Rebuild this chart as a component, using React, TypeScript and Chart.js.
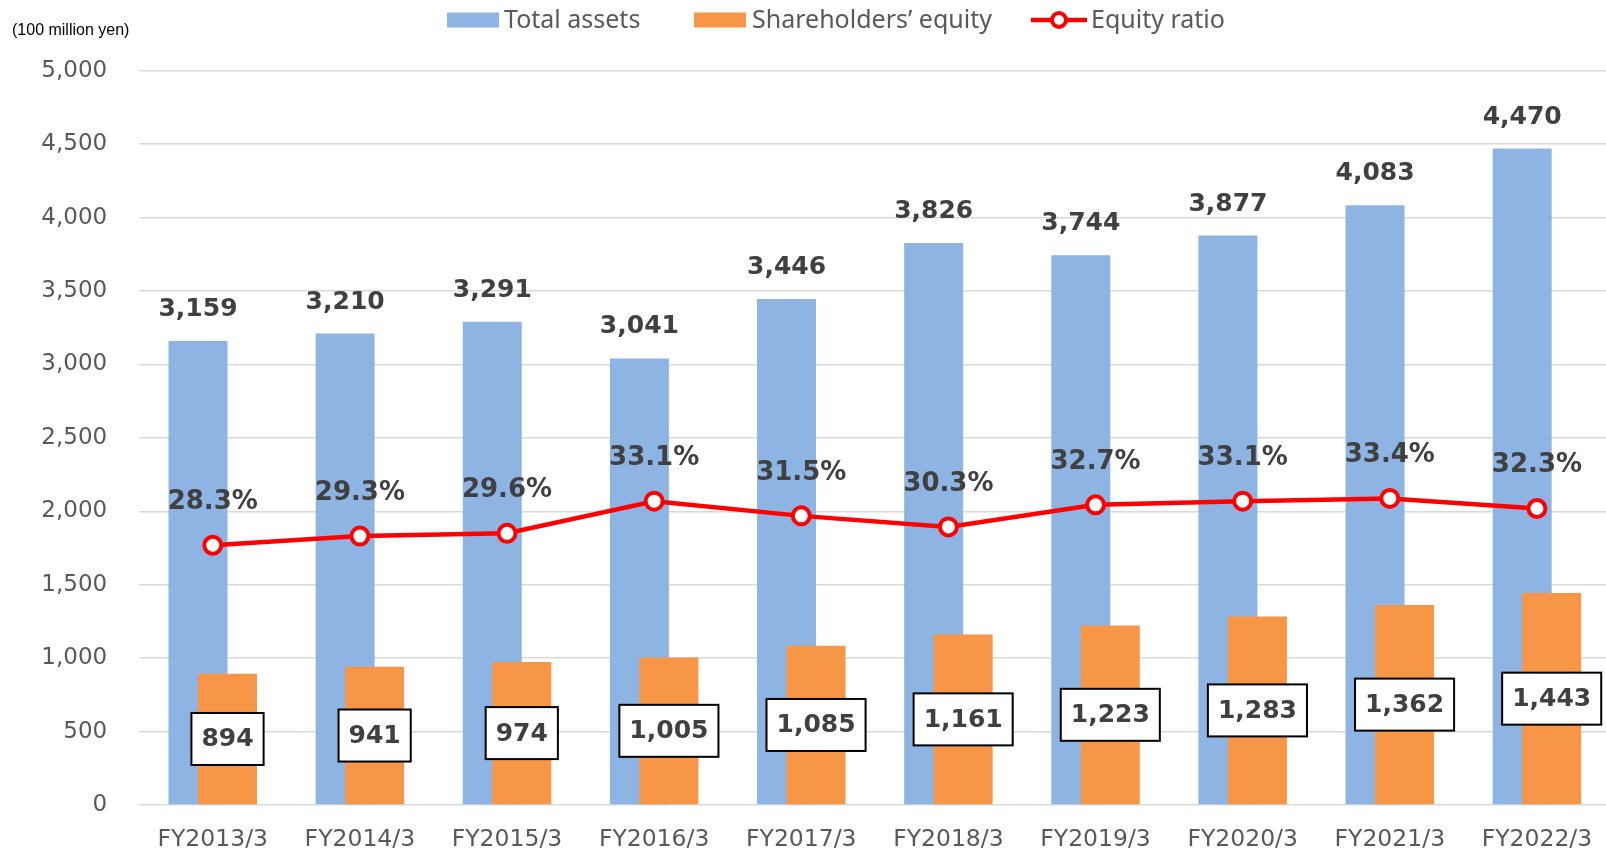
import { useEffect, useRef } from 'react';
import { Chart, registerables } from 'chart.js';

Chart.register(...registerables);

// ---- data ----
const categories = [
  'FY2013/3', 'FY2014/3', 'FY2015/3', 'FY2016/3', 'FY2017/3',
  'FY2018/3', 'FY2019/3', 'FY2020/3', 'FY2021/3', 'FY2022/3',
];
const totalAssets = [3159, 3210, 3291, 3041, 3446, 3826, 3744, 3877, 4083, 4470];
const shareholdersEquity = [894, 941, 974, 1005, 1085, 1161, 1223, 1283, 1362, 1443];
const equityRatio = [28.3, 29.3, 29.6, 33.1, 31.5, 30.3, 32.7, 33.1, 33.4, 32.3];
const seriesNames = ['Total assets', 'Shareholders\u2019 equity', 'Equity ratio'];
const unitLabel = '(100 million yen)';
const yMin = 0;
const yMax = 5000;
const yStep = 500;
const ratioMin = 0;
const ratioMax = 80;

// ---- styles ----
const BLUE = '#8EB4E3';
const ORANGE = '#F79646';
const RED = '#FF0000';
const TICK_COLOR = '#595959';
const LABEL_COLOR = '#404040';
const GRID_COLOR = '#D9D9D9';
const CANVAS_W = 1623;
const CANVAS_H = 853;

const fmt = (v: number) => v.toLocaleString('en-US');

// draw orange bars right after the blue ones so they sit on top of them
const barLayering = {
  id: 'barLayering',
  beforeDatasetDraw(chart: any, args: any) {
    if (args.index === 1) return false;
    return true;
  },
  afterDatasetDraw(chart: any, args: any) {
    if (args.index === 0) {
      chart.getDatasetMeta(1).controller.draw();
    }
  },
};

const dataLabels = {
  id: 'dataLabels',
  afterDatasetsDraw(chart: any) {
    const ctx = chart.ctx as CanvasRenderingContext2D;
    ctx.save();
    ctx.textAlign = 'center';
    ctx.textBaseline = 'middle';

    // total assets above bars
    ctx.font = 'bold 25px "DejaVu Sans"';
    ctx.fillStyle = LABEL_COLOR;
    chart.getDatasetMeta(0).data.forEach((bar: any, i: number) => {
      ctx.fillText(fmt(totalAssets[i]), bar.x, bar.y - 31.5);
    });

    // equity boxed labels in middle of bars
    chart.getDatasetMeta(1).data.forEach((bar: any, i: number) => {
      const t = fmt(shareholdersEquity[i]);
      ctx.font = 'bold 25px "DejaVu Sans"';
      const w = ctx.measureText(t).width + 20;
      const h = 52;
      const cy = (bar.y + bar.base) / 2;
      ctx.fillStyle = '#FFFFFF';
      ctx.fillRect(bar.x - w / 2, cy - h / 2, w, h);
      ctx.lineWidth = 2;
      ctx.strokeStyle = '#000000';
      ctx.strokeRect(bar.x - w / 2, cy - h / 2, w, h);
      ctx.fillStyle = LABEL_COLOR;
      ctx.fillText(t, bar.x, cy + 1);
    });

    // ratio labels above points
    ctx.font = 'bold 26px "DejaVu Sans"';
    ctx.fillStyle = LABEL_COLOR;
    chart.getDatasetMeta(2).data.forEach((pt: any, i: number) => {
      ctx.fillText(equityRatio[i].toFixed(1) + '%', pt.x, pt.y - 43);
    });
    ctx.restore();
  },
};

const legendAndUnit = {
  id: 'legendAndUnit',
  afterDraw(chart: any) {
    const ctx = chart.ctx as CanvasRenderingContext2D;
    ctx.save();
    // unit label
    ctx.font = '16px "Liberation Sans"';
    ctx.fillStyle = '#000000';
    ctx.textAlign = 'left';
    ctx.textBaseline = 'middle';
    ctx.fillText(unitLabel, 12, 31);

    // legend
    const cy = 20;
    ctx.font = '25px "Noto Sans"';
    ctx.textBaseline = 'middle';

    ctx.fillStyle = BLUE;
    ctx.fillRect(447, cy - 7.5, 52, 15);
    ctx.fillStyle = TICK_COLOR;
    ctx.fillText(seriesNames[0], 504, cy + 1);

    ctx.fillStyle = ORANGE;
    ctx.fillRect(694, cy - 7.5, 52, 15);
    ctx.fillStyle = TICK_COLOR;
    ctx.fillText(seriesNames[1], 752, cy + 1);

    ctx.strokeStyle = RED;
    ctx.lineWidth = 4.5;
    ctx.beginPath();
    ctx.moveTo(1031, cy);
    ctx.lineTo(1087, cy);
    ctx.stroke();
    ctx.beginPath();
    ctx.arc(1059, cy, 7, 0, Math.PI * 2);
    ctx.fillStyle = '#FFFFFF';
    ctx.fill();
    ctx.lineWidth = 4;
    ctx.stroke();
    ctx.fillStyle = TICK_COLOR;
    ctx.fillText(seriesNames[2], 1091, cy + 1);
    ctx.restore();
  },
};

export default function App() {
  const canvasRef = useRef<HTMLCanvasElement | null>(null);

  useEffect(() => {
    if (!canvasRef.current) return;
    const chart = new Chart(canvasRef.current, {
      type: 'bar',
      data: {
        labels: categories,
        datasets: [
          {
            type: 'bar',
            label: seriesNames[0],
            data: totalAssets,
            backgroundColor: BLUE,
            yAxisID: 'y',
            order: 1,
            categoryPercentage: 0.401,
            barPercentage: 2.0,
          },
          {
            type: 'bar',
            label: seriesNames[1],
            data: shareholdersEquity,
            backgroundColor: ORANGE,
            yAxisID: 'y',
            order: 2,
            categoryPercentage: 0.401,
            barPercentage: 2.0,
          },
          {
            type: 'line',
            label: seriesNames[2],
            data: equityRatio,
            yAxisID: 'y1',
            order: 0,
            borderColor: RED,
            borderWidth: 4.5,
            pointRadius: 8.5,
            pointHoverRadius: 8.5,
            pointBorderWidth: 4,
            pointBackgroundColor: '#FFFFFF',
            pointBorderColor: RED,
            tension: 0,
          } as any,
        ],
      },
      options: {
        animation: false,
        responsive: false,
        devicePixelRatio: 1,
        layout: { padding: { top: 70.7, left: 0, right: 4, bottom: 0 } },
        plugins: {
          legend: { display: false },
          tooltip: { enabled: false },
        },
        scales: {
          x: {
            type: 'category',
            offset: true,
            grid: { display: false, drawTicks: false },
            border: { display: false },
            ticks: {
              color: TICK_COLOR,
              font: { family: '"DejaVu Sans"', size: 23.5 },
              padding: 21,
              maxRotation: 0,
              autoSkip: false,
            },
            afterFit: (scale: any) => { scale.height = 48; },
          },
          y: {
            type: 'linear',
            position: 'left',
            min: yMin,
            max: yMax,
            grid: { color: GRID_COLOR, lineWidth: 1.5, drawTicks: false },
            border: { display: false },
            ticks: {
              stepSize: yStep,
              color: TICK_COLOR,
              font: { family: '"DejaVu Sans"', size: 23 },
              padding: 32,
              callback: (v: any) => fmt(Number(v)),
            },
            afterFit: (scale: any) => { scale.width = 139.2; },
          },
          y1: {
            type: 'linear',
            display: false,
            min: ratioMin,
            max: ratioMax,
          },
        },
      },
      plugins: [barLayering, dataLabels, legendAndUnit],
    });
    return () => chart.destroy();
  }, []);

  return (
    <div style={{ position: 'fixed', left: 0, top: 0, width: CANVAS_W, height: CANVAS_H, background: '#FFFFFF' }}>
      <canvas ref={canvasRef} width={CANVAS_W} height={CANVAS_H} style={{ display: 'block' }} />
    </div>
  );
}
